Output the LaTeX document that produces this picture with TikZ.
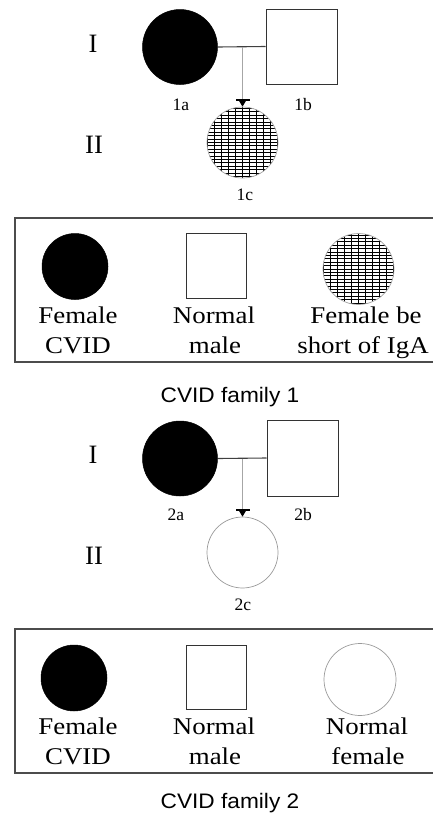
\documentclass[tikz,border=0pt]{standalone}
\usepackage{fontspec}
\setmainfont{Liberation Serif}
\newfontfamily\legfont[FakeStretch=1.12]{Liberation Serif}
\newfontfamily\capfont[FakeStretch=1.08]{Liberation Sans}
\usetikzlibrary{arrows.meta}
\begin{document}
\begin{tikzpicture}[x=1pt,y=-1pt,
  affected/.style={circle,fill=black,draw=black,line width=0.5pt,inner sep=0pt,minimum size=#1},
  male/.style={rectangle,draw=black!80,line width=1pt,fill=white,inner sep=0pt},
  normfem/.style={circle,draw=black!40,line width=0.7pt,inner sep=0pt,minimum size=#1},
  hatchfem/.style={circle,draw=black!35,line width=0.7pt,inner sep=0pt,minimum size=#1,
    path picture={\draw[black,line width=0.9pt,xstep=7pt,ystep=3.4pt]
      ([xshift=-3pt,yshift=-3pt]path picture bounding box.south west) grid
      ([xshift=3pt,yshift=3pt]path picture bounding box.north east);}},
  mate/.style={draw=black!75,line width=1.1pt},
  child/.style={draw=black!35,line width=0.8pt,
    -{Bar[width=14pt,line width=1.2pt,sep=0pt,color=black]Triangle[width=7pt,length=6pt,sep=0pt,color=black,fill=black]}},
  lbl/.style={font=\fontsize{17.5}{20}\selectfont,anchor=base,inner sep=0pt},
  gen/.style={font=\fontsize{26.5}{30}\selectfont,anchor=base,inner sep=0pt},
  leg/.style={font=\legfont\fontsize{24}{28}\selectfont,anchor=base,inner sep=0pt},
  captxt/.style={font=\capfont\fontsize{21}{24}\selectfont,anchor=base,inner sep=0pt},
  legbox/.style={draw=black!70,line width=1.2pt}]
\useasboundingbox (0,0) rectangle (432,814);

% ---------------- Family 1 ----------------
\node[gen] (g1I) at (93,52) {I};
\node[gen] (g1II) at (94,153) {II};
\node[affected=75pt] (f1a) at (180,47) {};
\node[male,minimum width=71pt,minimum height=75pt] (f1b) at (301.5,46.5) {};
\node[hatchfem=71pt] (f1c) at (242.5,142.5) {};
\draw[mate] (f1a.east) -- (f1b.west);
\coordinate (j1) at (242.5,47);
\draw[child] (j1) -- (f1c.north);
\node[lbl] (t1a) at (181,110) {1a};
\node[lbl] (t1b) at (303,110) {1b};
\node[lbl] (t1c) at (245,200) {1c};

% legend 1
\draw[legbox] (440,218) -- (15,218) -- (15,362) -- (440,362);
\node[affected=66pt] (L1a) at (75,266.5) {};
\node[male,minimum width=60pt,minimum height=65pt] (L1b) at (216,265.5) {};
\node[hatchfem=71pt] (L1c) at (358.5,269) {};
\node[leg] (L1at) at (78,323) {Female};
\node[leg] (L1ab) at (78,353) {CVID};
\node[leg] (L1bt) at (214,323) {Normal};
\node[leg] (L1bb) at (215,353) {male};
\node[leg] (L1ct) at (366,323) {Female be};
\node[leg] (L1cb) at (363,353) {short of IgA};
\node[captxt] (c1) at (230,402) {CVID family 1};

% ---------------- Family 2 ----------------
\node[gen] (g2I) at (93,463) {I};
\node[gen] (g2II) at (94,564) {II};
\node[affected=75pt] (f2a) at (180,458.5) {};
\node[male,minimum width=71pt,minimum height=76pt] (f2b) at (302.5,458) {};
\node[normfem=71pt] (f2c) at (242.5,552.5) {};
\draw[mate] (f2a.east) -- (f2b.west);
\coordinate (j2) at (242.5,458.5);
\draw[child] (j2) -- (f2c.north);
\node[lbl] (t2a) at (176,520) {2a};
\node[lbl] (t2b) at (303,520) {2b};
\node[lbl] (t2c) at (243,610) {2c};

% legend 2
\draw[legbox] (440,629) -- (15,629) -- (15,773) -- (440,773);
\node[affected=66pt] (L2a) at (74,678) {};
\node[male,minimum width=60pt,minimum height=64pt] (L2b) at (216,677) {};
\node[normfem=72pt] (L2c) at (360,679.5) {};
\node[leg] (L2at) at (78,734) {Female};
\node[leg] (L2ab) at (78,764) {CVID};
\node[leg] (L2bt) at (214,734) {Normal};
\node[leg] (L2bb) at (215,764) {male};
\node[leg] (L2ct) at (367,734) {Normal};
\node[leg] (L2cb) at (368,764) {female};
\node[captxt] (c2) at (230,808) {CVID family 2};
\end{tikzpicture}
\end{document}
